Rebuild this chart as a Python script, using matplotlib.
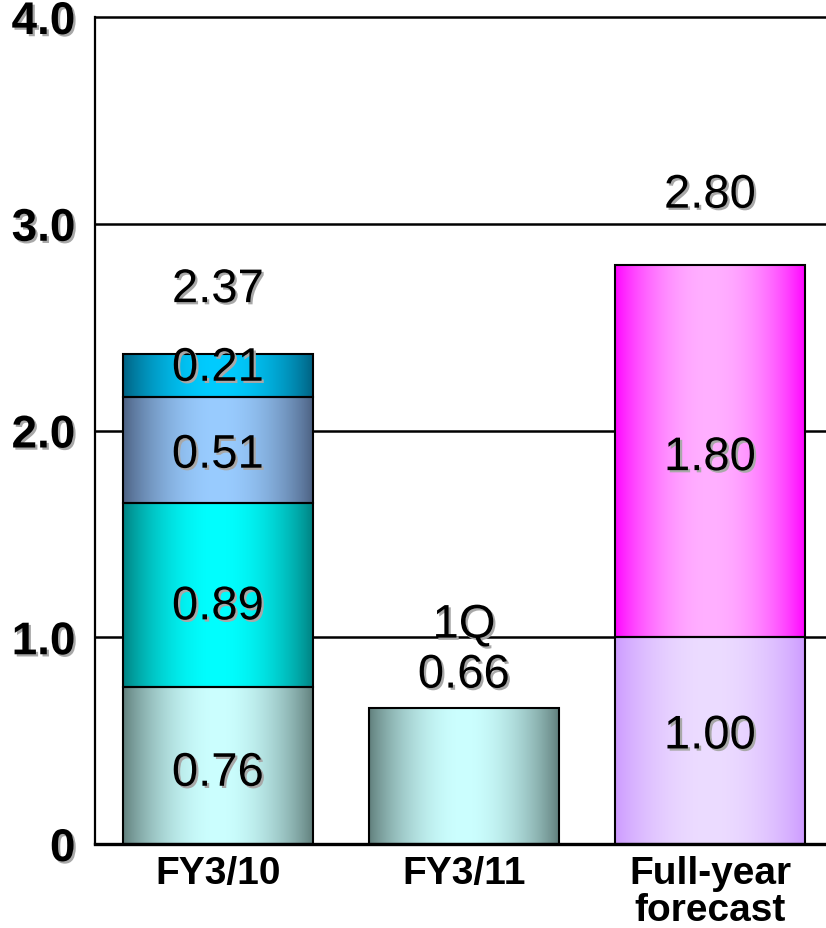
import numpy as np
import matplotlib as mpl
import matplotlib.pyplot as plt
import matplotlib.patheffects as pe
from matplotlib.colors import to_rgb

mpl.rcParams["font.family"] = ["Liberation Sans", "DejaVu Sans"]

categories = ["FY3/10", "FY3/11", "Full-year\nforecast"]
fy10_parts = [0.76, 0.89, 0.51, 0.21]
fy10_total = 2.37
fy11_q1 = 0.66
forecast_parts = [1.00, 1.80]
forecast_total = 2.80
yticks = [0, 1.0, 2.0, 3.0, 4.0]
ytick_labels = ["0", "1.0", "2.0", "3.0", "4.0"]

# (edge colour, centre colour) for the cylinder-style gradient
fy10_colors = [("#5f7d7a", "#ccffff"), ("#007f7f", "#00ffff"),
               ("#4b5f80", "#99ccff"), ("#005f7f", "#00ccff")]
fy11_color = ("#5f7d7a", "#ccffff")
forecast_colors = [("#cc99ff", "#ecdcff"), ("#ff00ff", "#ffb0ff")]

shadow = [pe.SimplePatchShadow(offset=(1.6, -1.6), shadow_rgbFace="#a8a8a8", alpha=1.0), pe.Normal()]
width = 0.772


def grad_bar(ax, x, bottom, height, colors):
    edge, centre = np.array(to_rgb(colors[0])), np.array(to_rgb(colors[1]))
    t = np.linspace(0, 1, 256)
    w = np.sin(np.pi * t) ** 0.8
    img = edge[None, :] * (1 - w[:, None]) + centre[None, :] * w[:, None]
    ax.imshow(img[None, :, :], extent=[x - width / 2, x + width / 2, bottom, bottom + height],
              aspect="auto", interpolation="bilinear", zorder=2)
    ax.bar(x, height, width, bottom=bottom, facecolor="none", edgecolor="black", linewidth=1.5, zorder=3)


def label(ax, x, y, text, dy=0):
    ax.annotate(text, (x, y), xytext=(0, dy - 3), textcoords="offset points", ha="center", va="center",
                fontsize=34, color="black", path_effects=shadow, zorder=5, annotation_clip=False)


fig = plt.figure(figsize=(8.26, 9.29), dpi=100)
ax = fig.add_axes([95 / 826, 84 / 929, 731 / 826, 827 / 929])

for y in yticks[1:]:
    ax.axhline(y, color="black", linewidth=1.8, zorder=1, clip_on=False)

# FY3/10 stacked
seg_dy = [-3, -6, -1, 8]
bottom = 0
for v, c, d in zip(fy10_parts, fy10_colors, seg_dy):
    grad_bar(ax, 0, bottom, v, c)
    label(ax, 0, bottom + v / 2, f"{v:.2f}", d)
    bottom += v
label(ax, 0, fy10_total, f"{fy10_total:.2f}", 49)

# FY3/11 first quarter
grad_bar(ax, 1, 0, fy11_q1, fy11_color)
label(ax, 1, fy11_q1, f"{fy11_q1:.2f}", 26)
label(ax, 1, fy11_q1, "1Q", 62)

# full-year forecast
seg_dy = [6, -2]
bottom = 0
for v, c, d in zip(forecast_parts, forecast_colors, seg_dy):
    grad_bar(ax, 2, bottom, v, c)
    label(ax, 2, bottom + v / 2, f"{v:.2f}", d)
    bottom += v
label(ax, 2, forecast_total, f"{forecast_total:.2f}", 53)

ax.set_xlim(-0.5, 2.4715)
ax.set_ylim(0, 4.0)
for s in ["top", "right"]:
    ax.spines[s].set_visible(False)
ax.spines["left"].set_linewidth(1.6)
ax.spines["bottom"].set_linewidth(2.4)
ax.spines["left"].set_zorder(4)
ax.spines["bottom"].set_zorder(4)

ax.set_yticks(yticks)
ax.set_yticklabels(ytick_labels, fontsize=33, fontweight="bold")
for t in ax.get_yticklabels():
    t.set_path_effects(shadow)
ax.tick_params(axis="y", length=0, pad=14)

ax.set_xticks(range(len(categories)))
ax.set_xticklabels(categories, fontsize=28, fontweight="bold", linespacing=1.02)
ax.tick_params(axis="x", length=0, pad=8)

fig.savefig("out.png", dpi=100)
